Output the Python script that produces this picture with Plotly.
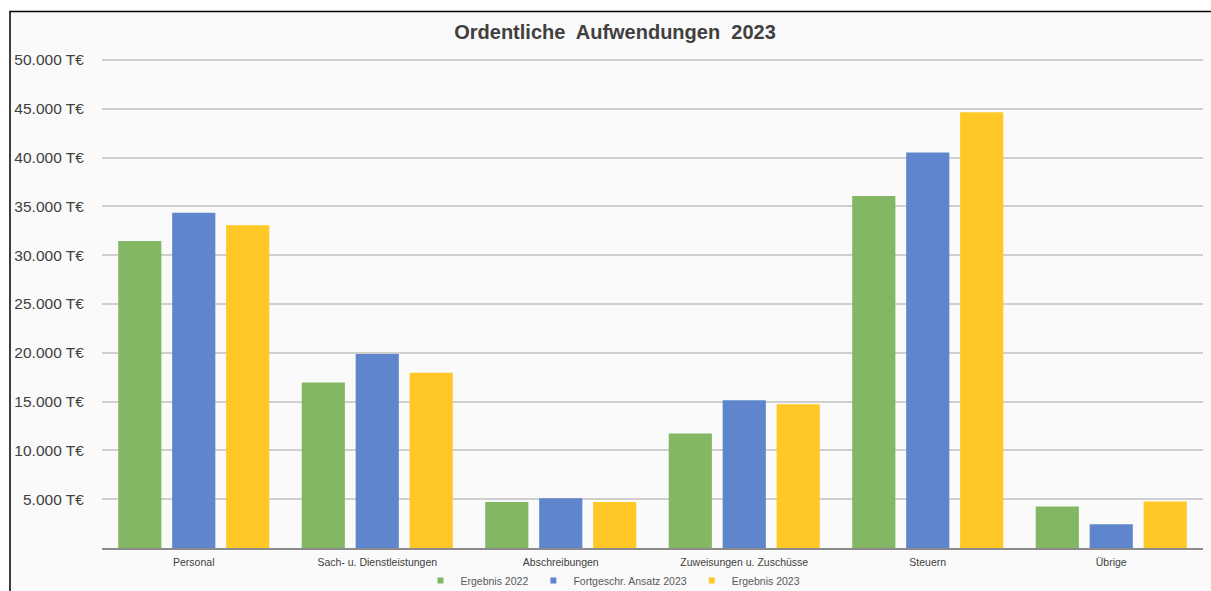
import plotly.graph_objects as go

categories = ["Personal", "Sach- u. Dienstleistungen", "Abschreibungen",
              "Zuweisungen u. Zuschüsse", "Steuern", "Übrige"]
series_names = ["Ergebnis 2022", "Fortgeschr. Ansatz 2023", "Ergebnis 2023"]
ergebnis_2022 = [31450, 16950, 4700, 11740, 36050, 4250]
ansatz_2023 = [34350, 19870, 5100, 15130, 40520, 2430]
ergebnis_2023 = [33060, 17960, 4700, 14720, 44630, 4760]
tick_values = [5000, 10000, 15000, 20000, 25000, 30000, 35000, 40000, 45000, 50000]
tick_labels = ["5.000 T€", "10.000 T€", "15.000 T€", "20.000 T€", "25.000 T€",
               "30.000 T€", "35.000 T€", "40.000 T€", "45.000 T€", "50.000 T€"]
colors = ["#83B763", "#5F86CC", "#FFC826"]

W, H = 1211, 591
L, R, T, B = 102, 8, 54.6, 42.5
pw, ph = W - L - R, H - T - B

def px_to_paper_x(px):
    return (px - L) / pw

def px_to_paper_y(py):
    return (H - B - py) / ph

fig = go.Figure()
for name, vals, c in zip(series_names, [ergebnis_2022, ansatz_2023, ergebnis_2023], colors):
    fig.add_trace(go.Bar(x=categories, y=vals, name=name, marker_color=c,
                         marker_line_width=0, showlegend=False))
for name, c in zip(series_names, colors):
    fig.add_trace(go.Scatter(x=[None], y=[None], mode="markers", name=name,
                             marker=dict(symbol="square", size=6, color=c)))

fig.update_layout(
    width=W, height=H,
    margin=dict(l=L, r=R, t=T, b=B, autoexpand=False),
    paper_bgcolor="white",
    plot_bgcolor="rgba(0,0,0,0)",
    barmode="group", bargap=0.118, bargroupgap=0.2,
    font=dict(family="Liberation Sans, Arial, sans-serif", color="#404040"),
    title=dict(text="<b>Ordentliche  Aufwendungen  2023</b>", x=615 / W, xanchor="center",
               y=1 - 32 / H, yanchor="middle",
               font=dict(size=20, color="#404040")),
    legend=dict(orientation="h", x=px_to_paper_x(613), xanchor="center",
                y=px_to_paper_y(581), yanchor="middle",
                font=dict(size=10.5, color="#595959"), itemwidth=30,
                bgcolor="rgba(0,0,0,0)"),
    showlegend=True,
    shapes=[dict(type="rect", xref="paper", yref="paper",
                 x0=px_to_paper_x(10), x1=px_to_paper_x(1230),
                 y0=px_to_paper_y(620), y1=px_to_paper_y(11),
                 fillcolor="#FAFAFA", line=dict(color="black", width=1.5),
                 layer="below")],
)
fig.update_xaxes(showline=True, linecolor="#8C8C8C", linewidth=1.5,
                 showgrid=False, ticks="outside", ticklen=4, tickcolor="rgba(0,0,0,0)",
                 tickfont=dict(size=10.5, color="#404040"))
fig.update_yaxes(range=[0, 50500], tickvals=tick_values, ticktext=tick_labels,
                 showgrid=True, gridcolor="#CFCFCF", gridwidth=1.5,
                 zeroline=False, showline=False,
                 ticks="outside", ticklen=14, tickcolor="rgba(0,0,0,0)",
                 tickfont=dict(size=15.5, color="#404040"))

fig.write_html("out.html", config={"displayModeBar": False},
               post_script="document.body.style.margin='0';")
